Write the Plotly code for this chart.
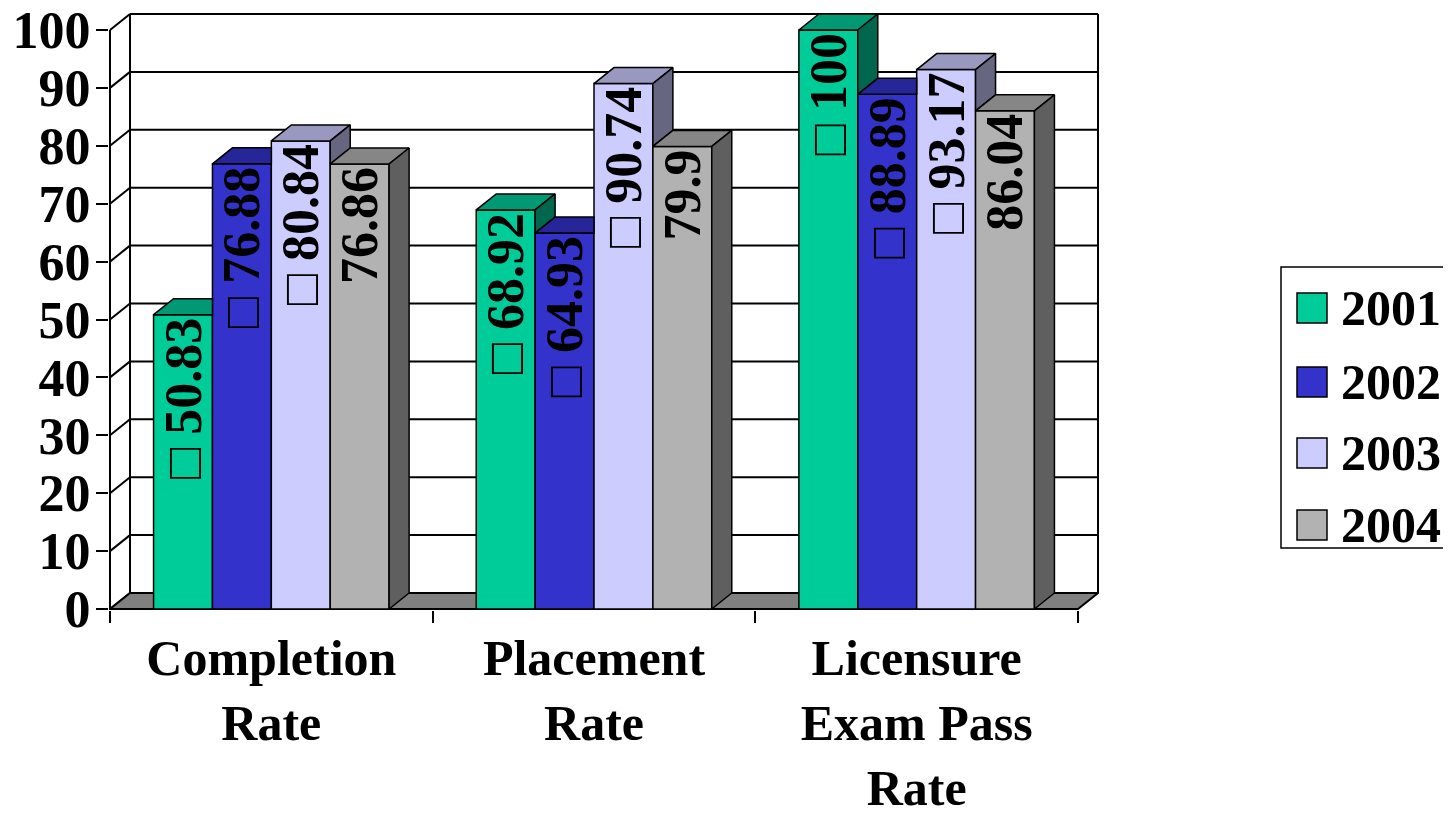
import plotly.graph_objects as go

# ---------------- data ----------------
categories = ["Completion<br>Rate", "Placement<br>Rate", "Licensure<br>Exam Pass<br>Rate"]
series_names = ["2001", "2002", "2003", "2004"]
values_2001 = [50.83, 68.92, 100]
values_2002 = [76.88, 64.93, 88.89]
values_2003 = [80.84, 90.74, 93.17]
values_2004 = [76.86, 79.9, 86.04]
label_prefix = ["\u25a1 ", "\u25a1 ", "\u25a1 ", ""]
y_ticks = [0, 10, 20, 30, 40, 50, 60, 70, 80, 90, 100]

series_values = [values_2001, values_2002, values_2003, values_2004]

# ---------------- style ----------------
front_colors = ["#00CC99", "#3333CC", "#CCCCFF", "#B2B2B2"]
top_colors = ["#009973", "#262699", "#9999BF", "#868686"]
side_colors = ["#00664D", "#1A1A66", "#666680", "#5F5F5F"]
floor_color = "#808080"
FONT = "Liberation Serif"
FS = 52
FS_CAT = 50
FS_LEG = 50

# ---------------- geometry (page pixels; the page body has an 8px margin) ----------------
OFF = 8
W, H = 1451 - 2 * OFF, 815 - 2 * OFF
front_left_px = 110 - OFF
back_right_px = 1098 - OFF
floor_front_px = 609 - OFF
top_front_px = 30 - OFF
depth_px_x = 20
depth_px_y = 16
bargap = 0.27

n_cat = len(categories)
n_ser = len(series_names)
ymax = y_ticks[-1]
cat_px = (back_right_px - depth_px_x - front_left_px) / n_cat
ypx = (floor_front_px - top_front_px) / ymax
DX = depth_px_x / cat_px
DY = depth_px_y / ypx
PADX = 1 / cat_px
PADY = 1 / ypx
xrange = [-0.5 - PADX, n_cat - 0.5 + DX + PADX]
yrange = [-PADY, ymax + DY + PADY]
m_l = front_left_px - 1
m_t = floor_front_px - (ymax + DY) * ypx - 1
plot_w = (xrange[1] - xrange[0]) * cat_px
plot_h = (yrange[1] - yrange[0]) * ypx
m_r = W - m_l - plot_w
m_b = H - m_t - plot_h


def fmt(v):
    return f"{v:g}"


fig = go.Figure()

# front faces of the bars
for i, name in enumerate(series_names):
    vals = series_values[i]
    fig.add_trace(go.Bar(
        x=list(range(n_cat)), y=vals, name=name,
        marker=dict(color=front_colors[i], line=dict(color="black", width=1.5)),
        text=[label_prefix[i] + fmt(v) for v in vals],
        textposition="inside", insidetextanchor="end", textangle=-90,
        constraintext="none",
        textfont=dict(family=FONT, size=FS, color="black", weight="bold"),
        showlegend=False, hoverinfo="x+y",
    ))

# 3D top and side faces (painter's order left to right)
wbar = (1 - bargap) / n_ser
for c in range(n_cat):
    for i in range(n_ser):
        v = series_values[i][c]
        vn = series_values[i + 1][c] if i < n_ser - 1 else None
        x0 = c - (1 - bargap) / 2 + i * wbar
        x1 = x0 + wbar
        # top face
        if vn is None or vn <= v:
            pts = [(x0, v), (x1, v), (x1 + DX, v + DY), (x0 + DX, v + DY)]
        elif vn >= v + DY:
            pts = [(x0, v), (x1, v), (x1, v + DY), (x0 + DX, v + DY)]
        else:
            xc = x1 + (vn - v) / DY * DX
            pts = [(x0, v), (x1, v), (x1, vn), (xc, vn), (x1 + DX, v + DY), (x0 + DX, v + DY)]
        fig.add_trace(go.Scatter(
            x=[p[0] for p in pts] + [pts[0][0]], y=[p[1] for p in pts] + [pts[0][1]],
            mode="lines", fill="toself", fillcolor=top_colors[i],
            line=dict(color="black", width=1.5), hoverinfo="skip", showlegend=False))
        # side face
        side = None
        if vn is None:
            side = [(x1, 0), (x1, v), (x1 + DX, v + DY), (x1 + DX, DY)]
        elif vn < v:
            side = [(x1, vn), (x1, v), (x1 + DX, v + DY), (x1 + DX, vn + DY)]
        if side:
            fig.add_trace(go.Scatter(
                x=[p[0] for p in side] + [side[0][0]], y=[p[1] for p in side] + [side[0][1]],
                mode="lines", fill="toself", fillcolor=side_colors[i],
                line=dict(color="black", width=1.5), hoverinfo="skip", showlegend=False))

# walls, gridlines, floor
shapes = []
LW = 2
xl, xr = -0.5, n_cat - 0.5
for t in y_ticks:
    shapes.append(dict(type="line", xref="x", yref="y", x0=xl, y0=t, x1=xl + DX, y1=t + DY,
                       line=dict(color="black", width=LW), layer="below"))
    shapes.append(dict(type="line", xref="x", yref="y", x0=xl + DX, y0=t + DY, x1=xr + DX, y1=t + DY,
                       line=dict(color="black", width=LW), layer="below"))
for xx in (xl + DX, xr + DX):
    shapes.append(dict(type="line", xref="x", yref="y", x0=xx, y0=DY, x1=xx, y1=ymax + DY,
                       line=dict(color="black", width=LW), layer="below"))
shapes.append(dict(type="line", xref="x", yref="y", x0=xl, y0=0, x1=xl, y1=ymax,
                   line=dict(color="black", width=LW), layer="below"))
shapes.append(dict(type="path", xref="x", yref="y",
                   path=f"M{xl},0 L{xr},0 L{xr + DX},{DY} L{xl + DX},{DY} Z",
                   fillcolor=floor_color, line=dict(color="black", width=LW), layer="below"))


# custom legend (page pixel -> paper)
def px2x(px):
    return (px - OFF - m_l) / plot_w


def px2y(py):
    return 1 - (py - OFF - m_t) / plot_h


legend_box = (1281, 267, 1470, 548)
legend_rows = [308, 382, 453, 525]
shapes.append(dict(type="rect", xref="paper", yref="paper",
                   x0=px2x(legend_box[0]), y0=px2y(legend_box[1]),
                   x1=px2x(legend_box[2]), y1=px2y(legend_box[3]),
                   line=dict(color="black", width=1.5), fillcolor="white", layer="above"))
annotations = []
for i, name in enumerate(series_names):
    yc = legend_rows[i]
    shapes.append(dict(type="rect", xref="paper", yref="paper",
                       x0=px2x(1297), y0=px2y(yc - 15), x1=px2x(1327), y1=px2y(yc + 15),
                       fillcolor=front_colors[i], line=dict(color="black", width=1.5), layer="above"))
    annotations.append(dict(xref="paper", yref="paper", x=px2x(1339), y=px2y(yc),
                            xanchor="left", yanchor="middle", text=name, showarrow=False,
                            font=dict(family=FONT, size=FS_LEG, color="black", weight="bold")))

fig.update_layout(
    width=W, height=H,
    margin=dict(l=m_l, r=m_r, t=m_t, b=m_b, pad=0, autoexpand=False),
    paper_bgcolor="white", plot_bgcolor="white",
    barmode="group", bargap=bargap, bargroupgap=0,
    shapes=shapes, annotations=annotations,
    showlegend=False,
    xaxis=dict(type="linear", range=xrange, tickvals=list(range(n_cat)), ticktext=categories,
               ticks="", showgrid=False, zeroline=False, showline=False, automargin=False,
               minor=dict(tickvals=[k - 0.5 for k in range(n_cat + 1)], ticks="outside",
                          ticklen=12, tickwidth=2, tickcolor="black", showgrid=False),
               tickfont=dict(family=FONT, size=FS_CAT, color="black", weight="bold"),
               ticklabelstandoff=14, ticklabeloverflow="allow"),
    yaxis=dict(range=yrange, tickvals=y_ticks, ticks="outside", ticklen=12, tickwidth=2,
               tickcolor="black", showgrid=False, zeroline=False, showline=False, automargin=False,
               tickfont=dict(family=FONT, size=FS, color="black", weight="bold"),
               ticklabelstandoff=-5, ticklabeloverflow="allow"),
)

fig.write_html("out.html")
